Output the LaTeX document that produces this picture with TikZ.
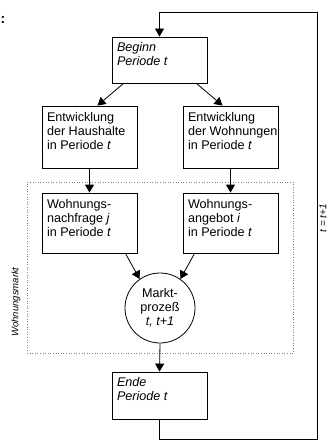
\documentclass[tikz,border=0pt]{standalone}
\usepackage{fontspec}
\setmainfont{Liberation Sans}
\usetikzlibrary{arrows.meta}
\begin{document}
\begin{tikzpicture}[x=1pt,y=-1pt,
  line width=0.8pt,
  box/.style={draw, minimum width=95pt, inner sep=0pt},
  txt/.style={anchor=north west, align=left, inner sep=0pt,
    font=\fontsize{12.6}{14.2}\selectfont},
  arr/.style={-{Triangle[width=9pt,length=8pt]}},
  side/.style={rotate=90, inner sep=0pt, font=\fontsize{9.5}{11}\selectfont\itshape},
]
\useasboundingbox (0,0) rectangle (328,441);

% stray colon at top left
\node[inner sep=0pt, font=\fontsize{14}{14}\selectfont\bfseries] (colon) at (3,20) {:};

% market frame
\node[draw, gray, dotted, line width=0.6pt, minimum width=266pt, minimum height=171pt,
  inner sep=0pt] (wm) at (160,267.5) {};
\node[side] (wmlab) at (16,302) {Wohnungsmarkt};

% boxes
\node[box, minimum height=46pt] (beg) at (159.5,60) {};
\node[txt] (begt) at ([shift={(5pt,-5pt)}]beg.north west) {\itshape Beginn\\\itshape Periode t};
\node[box, minimum height=62pt] (hh) at (89.5,137) {};
\node[txt] (hht) at ([shift={(5pt,-6pt)}]hh.north west) {Entwicklung\\der Haushalte\\in Periode \textit{t}};
\node[box, minimum height=62pt] (wo) at (230.5,137) {};
\node[txt] (wot) at ([shift={(5pt,-6pt)}]wo.north west) {Entwicklung\\der Wohnungen\\in Periode \textit{t}};
\node[box, minimum height=60pt] (nf) at (89.5,223) {};
\node[txt] (nft) at ([shift={(5pt,-6pt)}]nf.north west) {Wohnungs-\\nachfrage \textit{j}\\in Periode \textit{t}};
\node[box, minimum height=60pt] (an) at (230.5,223) {};
\node[txt] (ant) at ([shift={(5pt,-6pt)}]an.north west) {Wohnungs-\\angebot \textit{i}\\in Periode \textit{t}};
\node[draw, circle, minimum size=70pt, inner sep=0pt, align=center,
  font=\fontsize{12.6}{14}\selectfont] (mk) at (160,308) {Markt-\\prozeß\\\textit{t, t+1}};
\node[box, minimum height=47pt] (ende) at (159.5,395.5) {};
\node[txt] (endet) at ([shift={(5pt,-5pt)}]ende.north west) {\itshape Ende\\\itshape Periode t};

% connectors
\draw[arr] ([xshift=-36pt]beg.south) -- ([xshift=8pt]hh.north);
\draw[arr] ([xshift=37pt]beg.south) -- ([xshift=-8pt]wo.north);
\draw[arr] (hh.south) -- (nf.north);
\draw[arr] (wo.south) -- (an.north);
\draw[arr] ([xshift=-12pt]nf.south east) -- (mk.125);
\draw[arr] ([xshift=12pt]an.south west) -- (mk.55);
\draw[arr] (mk.south) -- (ende.north);

% feedback loop to the next period
\coordinate (lb) at (317,439);
\coordinate (lt) at (317,12);
\draw[arr] (ende.south) -- (ende.south |- lb) -- (lb) -- (lt) -- (beg.north |- lt) -- (beg.north);
\node[side, font=\fontsize{10}{11}\selectfont\itshape] (tt) at (323,218) {t = t+1};
\end{tikzpicture}
\end{document}
